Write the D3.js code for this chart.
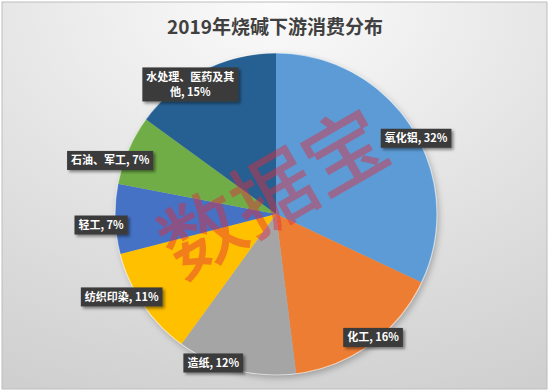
<!DOCTYPE html>
<html>
<head>
<meta charset="utf-8">
<script src="https://cdn.jsdelivr.net/npm/d3@7"></script>
<style>
  html, body { margin: 0; padding: 0; background: #fff; }
  svg { display: block; }
  text { font-family: "Noto Sans CJK SC", "Noto Sans", sans-serif; }
</style>
</head>
<body>
<div id="chart"></div>
<script>
var width = 550;
var height = 392;

// data
var categories = ["氧化铝", "化工", "造纸", "纺织印染", "轻工", "石油、军工", "水处理、医药及其他"];
var shares = [32, 16, 12, 11, 7, 7, 15];
var colors = ["#5b9bd5", "#ed7d31", "#a5a5a5", "#ffc000", "#4472c4", "#70ad47", "#255e91"];
// label text lines (the long one wraps)
var labelLines = [
  ["氧化铝, 32%"], ["化工, 16%"], ["造纸, 12%"], ["纺织印染, 11%"],
  ["轻工, 7%"], ["石油、军工, 7%"], ["水处理、医药及其", "他, 15%"]
];
// nudges from the arc centroid to where excel put each label
var labelNudge = [[5, 10], [3, -6], [-23, -6], [-22, -7], [-15, 6], [-19, 10], [-13, 13]];

var cx = 276, cy = 214, radius = 161;

var svg = d3.select("#chart").append("svg")
  .attr("width", width)
  .attr("height", height);

var defs = svg.append("defs");
var bg = defs.append("radialGradient")
  .attr("id", "bg")
  .attr("cx", "50%").attr("cy", "0%").attr("r", "110%");
bg.append("stop").attr("offset", "0%").attr("stop-color", "#fbfbfb");
bg.append("stop").attr("offset", "55%").attr("stop-color", "#e2e2e2");
bg.append("stop").attr("offset", "100%").attr("stop-color", "#cfcfcf");

var shadow = defs.append("filter").attr("id", "shadow")
  .attr("x", "-20%").attr("y", "-20%").attr("width", "150%").attr("height", "170%");
shadow.append("feDropShadow")
  .attr("dx", 2).attr("dy", 2).attr("stdDeviation", 1.5)
  .attr("flood-color", "#000").attr("flood-opacity", 0.45);

var pieShadow = defs.append("filter").attr("id", "pieShadow")
  .attr("x", "-10%").attr("y", "-10%").attr("width", "125%").attr("height", "125%");
pieShadow.append("feDropShadow")
  .attr("dx", 2).attr("dy", 3).attr("stdDeviation", 3)
  .attr("flood-color", "#000").attr("flood-opacity", 0.25);

// chart area
svg.append("rect")
  .attr("x", 2).attr("y", 2)
  .attr("width", width - 5).attr("height", height - 5)
  .attr("fill", "url(#bg)")
  .attr("stroke", "#bdbdbd")
  .attr("stroke-width", 1);

svg.append("text")
  .attr("x", width / 2)
  .attr("y", 34)
  .attr("text-anchor", "middle")
  .attr("font-size", 19)
  .attr("font-weight", "bold")
  .attr("fill", "#404040")
  .text("2019年烧碱下游消费分布");

var data = categories.map(function(c, i) {
  return { name: c, value: shares[i], color: colors[i], lines: labelLines[i], nudge: labelNudge[i] };
});

var pie = d3.pie().sort(null).value(function(d) { return d.value; });
var arc = d3.arc().innerRadius(0).outerRadius(radius);
var labelArc = d3.arc().innerRadius(160).outerRadius(160);

var g = svg.append("g").attr("transform", "translate(" + cx + "," + cy + ")");
var arcs = pie(data);

var slices = g.append("g").attr("filter", "url(#pieShadow)");
slices.selectAll("path")
  .data(arcs)
  .enter()
  .append("path")
  .attr("d", arc)
  .attr("fill", function(d) { return d.data.color; });

g.append("circle")
  .attr("r", radius)
  .attr("fill", "none")
  .attr("stroke", "rgba(255,255,255,0.55)")
  .attr("stroke-width", 1.2);

// watermark
svg.append("text")
  .attr("transform", "translate(274,194) rotate(-30)")
  .attr("text-anchor", "middle")
  .attr("dy", "0.35em")
  .attr("font-size", 82)
  .attr("font-weight", 500)
  .attr("fill", "rgba(225,45,60,0.45)")
  .text("数据宝");

// labels
var lab = svg.append("g").attr("transform", "translate(" + cx + "," + cy + ")")
  .selectAll("g")
  .data(arcs)
  .enter()
  .append("g")
  .attr("transform", function(d) {
    var c = labelArc.centroid(d);
    return "translate(" + (c[0] + d.data.nudge[0]) + "," + (c[1] + d.data.nudge[1]) + ")";
  });

var lineH = 15;
lab.each(function(d) {
  var node = d3.select(this);
  var box = node.append("rect")
    .attr("fill", "#3a3a3a")
    .attr("filter", "url(#shadow)");
  var n = d.data.lines.length;
  var maxW = 0;
  d.data.lines.forEach(function(t, i) {
    var tx = node.append("text")
      .attr("x", 0)
      .attr("y", (i - (n - 1) / 2) * lineH)
      .attr("dy", "0.36em")
      .attr("text-anchor", "middle")
      .attr("font-size", 11)
      .attr("font-weight", "bold")
      .attr("fill", "#ffffff")
      .text(t);
    maxW = Math.max(maxW, tx.node().getComputedTextLength());
  });
  var bw = maxW + 8, bh = n * lineH + 4;
  box.attr("x", -bw / 2).attr("y", -bh / 2).attr("width", bw).attr("height", bh);
});
</script>
</body>
</html>
